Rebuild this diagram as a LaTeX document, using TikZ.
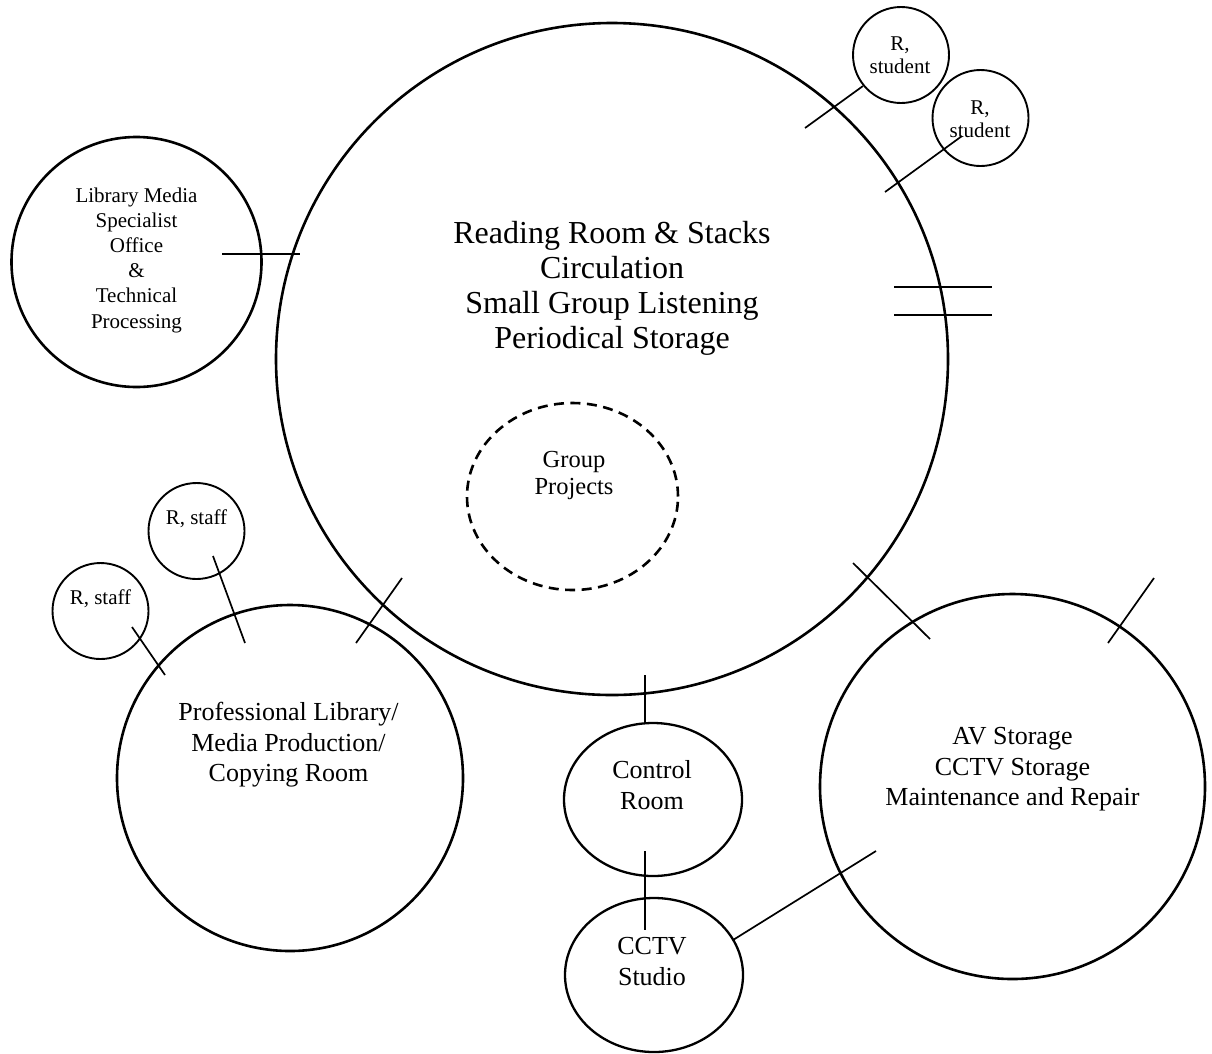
\documentclass[tikz,border=0pt]{standalone}
\usepackage{fontspec}
\setmainfont{Liberation Serif}
\usetikzlibrary{shapes.geometric}

\begin{document}
\begin{tikzpicture}[x=1pt, y=-1pt,
  room/.style={draw, circle, line width=2.6pt, inner sep=0pt},
  smallroom/.style={draw, circle, line width=1.9pt, inner sep=0pt},
  ovalroom/.style={draw, ellipse, line width=2.3pt, inner sep=0pt},
  zone/.style={draw, ellipse, line width=2.6pt, inner sep=0pt, dash pattern=on 10pt off 6.5pt},
  door/.style={line width=1.7pt},
  bigtext/.style={align=center, inner sep=0pt, font=\fontsize{32}{35}\selectfont},
  midtext/.style={align=center, inner sep=0pt, font=\fontsize{26}{30.5}\selectfont},
  grptext/.style={align=center, inner sep=0pt, font=\fontsize{24.5}{27}\selectfont},
  smalltext/.style={align=center, inner sep=0pt, font=\fontsize{21}{25.2}\selectfont},
  tinytext/.style={align=center, inner sep=0pt, font=\fontsize{21}{23}\selectfont}]

\useasboundingbox (0,0) rectangle (1212,1053);

% rooms
\node[room, minimum size=672pt] (main) at (612,359) {};
\node[room, minimum size=250pt] (lib) at (136.5,262) {};
\node[smallroom, minimum size=96pt] (rs1) at (901,55) {};
\node[smallroom, minimum size=96pt] (rs2) at (980.5,118) {};
\node[room, minimum size=346pt] (prof) at (290,778) {};
\node[smallroom, minimum size=96pt] (rst1) at (196.5,531) {};
\node[smallroom, minimum size=96pt] (rst2) at (100.5,611) {};
\node[ovalroom, minimum width=178pt, minimum height=153pt] (ctrl) at (653,799.5) {};
\node[ovalroom, minimum width=178pt, minimum height=154pt] (cctv) at (654,975) {};
\node[room, minimum size=385pt] (av) at (1012.5,786.5) {};
\node[zone, minimum width=211pt, minimum height=187pt] (grp) at (572.5,496.5) {};

% room names
\node[bigtext] (main-t) at (612,288) {Reading Room \& Stacks\\Circulation\\Small Group Listening\\Periodical Storage};
\node[smalltext] (lib-t) at (136.5,260) {Library Media\\Specialist\\Office\\\&\\Technical\\Processing};
\node[tinytext] (rs1-t) at (900,55) {R,\\student};
\node[tinytext] (rs2-t) at (980,119) {R,\\student};
\node[smalltext] (rst1-t) at (196.5,519) {R, staff};
\node[smalltext] (rst2-t) at (100.5,599) {R, staff};
\node[midtext] (prof-t) at (288.5,745) {Professional Library/\\Media Production/\\Copying Room};
\node[midtext] (av-t) at (1012.5,769.5) {AV Storage\\CCTV Storage\\Maintenance and Repair};
\node[midtext] (ctrl-t) at (652,785) {Control\\Room};
\node[midtext] (cctv-t) at (652,961.5) {CCTV\\Studio};
\node[grptext] (grp-t) at (574,475) {Group\\Projects};

% door ends
\coordinate (d1a) at (222,254);   \coordinate (d1b) at (300,254);
\coordinate (d2a) at (805,128);   \coordinate (d2b) at (863,86);
\coordinate (d3a) at (885,192);   \coordinate (d3b) at (962,136);
\coordinate (d4a) at (894,287);   \coordinate (d4b) at (992,287);
\coordinate (d5a) at (894,315);   \coordinate (d5b) at (992,315);
\coordinate (d6a) at (213,556);   \coordinate (d6b) at (245,643);
\coordinate (d7a) at (132,627);   \coordinate (d7b) at (165,675);
\coordinate (d8a) at (356,643);   \coordinate (d8b) at (402,578);
\coordinate (d9a) at (645,675);   \coordinate (d9b) at (645,723);
\coordinate (d10a) at (645,851);  \coordinate (d10b) at (645,930);
\coordinate (d11a) at (853,563);  \coordinate (d11b) at (930,639);
\coordinate (d12a) at (1108,643); \coordinate (d12b) at (1154,578);
\coordinate (d13a) at (733,940);  \coordinate (d13b) at (876,851);

% doors
\foreach \d in {1,...,13}
  \draw[door] (d\d a) -- (d\d b);

\end{tikzpicture}
\end{document}
